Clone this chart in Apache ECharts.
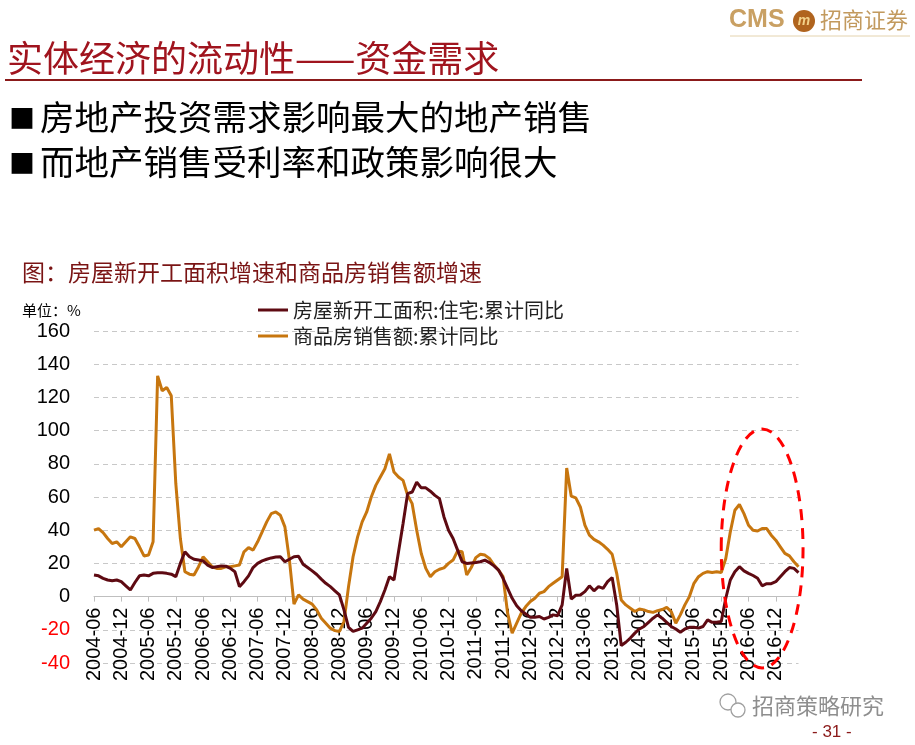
<!DOCTYPE html>
<html>
<head>
<meta charset="utf-8">
<script src="https://cdn.jsdelivr.net/npm/echarts/dist/echarts.min.js"></script>
<style>
html,body{margin:0;padding:0;background:#fff;}
#chart{width:915px;height:745px;}
</style>
</head>
<body>
<div id="chart"></div>
<script>
// ---- data ----
var startYear = 2004, startMonth = 6, monthCount = 156;
var categories = [];
for (var i = 0; i < monthCount; i++) {
  var m = startMonth - 1 + i;
  var y = startYear + Math.floor(m / 12);
  var mm = (m % 12) + 1;
  categories.push(y + '-' + (mm < 10 ? '0' + mm : mm));
}
var seriesNames = ['房屋新开工面积:住宅:累计同比', '商品房销售额:累计同比'];
var newStarts = [
  13, 12.5, 11, 10, 9.5, 10, 9, 6.5, 4, 8.5, 12.5, 13, 12.5, 14, 14.3, 14.3, 14, 13.5, 12, 20,
  27, 24, 22.5, 22, 21.5, 19, 17.5, 18, 18.5, 18.3, 17, 15, 6, 9, 12.5, 17.5, 20, 21.5, 22.5, 23.3,
  23.8, 24, 21, 22.5, 24, 24.3, 19.5, 17.5, 15.5, 13.3, 10.5, 8, 6, 3.5, 1, -8, -18.5, -21, -20, -19,
  -16, -13, -9, -3, 4, 12, 10, 27, 44, 62, 63, 69, 65.5, 65.5, 63.5, 61, 59, 48, 40, 35,
  28, 21, 20, 20.3, 20.5, 21, 22, 20.5, 18.5, 16, 11, 5, -1, -5.5, -8.5, -10.5, -12.5, -12.5, -12, -13.5,
  -12.5, -11, -11.5, -5, 17, -1.5, 0.8, 1, 3, 6.5, 3.5, 6, 5, 9, 11.5, -5, -29.5, -27.5, -25, -22,
  -19.5, -18, -15.5, -13, -11, -13, -15.5, -18, -19.5, -21.5, -19.5, -18.5, -18.5, -19, -18, -14, -15.5, -15.5, -15, -1,
  10, 15, 18, 15.5, 14, 12.7, 11, 6.5, 7.8, 7.8, 9, 12, 15, 17.5, 17, 14.5
];
var salesValue = [
  40, 41, 38.5, 35, 32, 33, 30, 33, 36, 35, 30, 24.5, 25, 33, 133, 124, 126, 121, 68, 35,
  15, 13.5, 13, 18, 24, 21, 18, 17, 17, 18, 18, 18.5, 19, 27, 29.5, 28, 33, 39, 45, 50,
  51, 49, 42, 22, -4.5, 1, -1.5, -3, -4.5, -8, -13, -16, -19, -20.5, -21, -15, 6, 24, 36, 45,
  51, 60, 67, 72, 77, 86, 75, 72, 70, 61, 56, 40, 26, 17, 12, 15, 16.5, 17.3, 20, 22,
  27.5, 27, 13, 17.5, 23.5, 25.5, 25, 23, 19, 16, 12, -10, -22, -16, -10, -6, -3, -1, 2, 3,
  6, 8, 10, 12, 77.5, 60.5, 59.5, 54, 43, 37, 34.5, 33, 31, 28.5, 25.5, 14, -2, -5, -7, -9,
  -7.5, -8, -9, -9.5, -8.5, -7.8, -6.5, -9, -16, -11, -5, 0, 8, 12, 14, 15, 14.5, 15, 14.5, 23,
  39, 52, 55.5, 50, 43, 40, 39.5, 41, 41, 37, 34, 30, 26, 24.5, 21, 18
];
var yMin = -40, yMax = 160, yStep = 20;
var labelStep = 6;
// annotation ellipse (data coords of centre, radii in categories / value units)
var ellipseCenter = [147, 29];
var ellipseRadius = [8.8, 72];

var COL_DARK = '#5E0A12';
var COL_ORANGE = '#C7760F';
var CJK = '"Noto Sans CJK SC", sans-serif';
var LAT = '"Liberation Sans", Arial, sans-serif';

var GRID_TOP = 331, GRID_BOTTOM = 82, CHART_H = 745;
var gridH = CHART_H - GRID_TOP - GRID_BOTTOM;
var zeroOffset = -(0 - yMin) / (yMax - yMin) * gridH; // move x axis up to value 0

var chart = echarts.init(document.getElementById('chart'), null, {renderer: 'canvas'});

var baseGraphic = [
  // logo
  {type: 'text', left: 729, top: 8, style: {text: 'CMS', fill: '#C9A063', font: 'bold 25px ' + LAT}},
  {type: 'circle', shape: {cx: 804, cy: 21, r: 11}, style: {fill: '#B0641E'}},
  {type: 'text', x: 804, y: 21, style: {text: 'm', fill: '#F3D28A', font: 'bold italic 14px ' + LAT, textAlign: 'center', textVerticalAlign: 'middle'}},
  {type: 'text', left: 820, top: 9, style: {text: '招商证券', fill: '#C29A5E', font: '22px ' + CJK}},
  {type: 'line', shape: {x1: 730, y1: 36, x2: 910, y2: 36}, style: {stroke: '#E4D3AE', lineWidth: 1}},
  // title
  {type: 'text', x: 7, y: 58, style: {text: '实体经济的流动性——资金需求', fill: '#A0141E', font: '36px ' + CJK, textVerticalAlign: 'middle'}},
  {type: 'line', shape: {x1: 5, y1: 80, x2: 862, y2: 80}, style: {stroke: '#8B1A1A', lineWidth: 2}},
  // bullets
  {type: 'text', x: 9, y: 118, style: {text: '■', fill: '#000', font: '26px ' + CJK, textVerticalAlign: 'middle'}},
  {type: 'text', x: 40, y: 117, style: {text: '房地产投资需求影响最大的地产销售', fill: '#000', font: '34.5px ' + CJK, textVerticalAlign: 'middle'}},
  {type: 'text', x: 9, y: 163, style: {text: '■', fill: '#000', font: '26px ' + CJK, textVerticalAlign: 'middle'}},
  {type: 'text', x: 40, y: 162, style: {text: '而地产销售受利率和政策影响很大', fill: '#000', font: '34.5px ' + CJK, textVerticalAlign: 'middle'}},
  // caption
  {type: 'text', x: 22, y: 272, style: {text: '图：房屋新开工面积增速和商品房销售额增速', fill: '#7A1414', font: '23px ' + CJK, textVerticalAlign: 'middle'}},
  {type: 'text', x: 22, y: 310, style: {text: '单位：%', fill: '#000', font: '15px ' + CJK, textVerticalAlign: 'middle'}},
  // watermark
  {type: 'circle', shape: {cx: 728, cy: 702, r: 8}, style: {fill: 'none', stroke: '#A0A0A0', lineWidth: 1.3}},
  {type: 'circle', shape: {cx: 738, cy: 710, r: 7}, style: {fill: '#fff', stroke: '#A0A0A0', lineWidth: 1.3}},
  {type: 'text', x: 752, y: 706, style: {text: '招商策略研究', fill: '#8E8E8E', font: '22px ' + CJK, textVerticalAlign: 'middle'}},
  {type: 'text', x: 812, y: 732, style: {text: '- 31 -', fill: '#8B1A1A', font: '17px ' + LAT, textVerticalAlign: 'middle'}}
];

var option = {
  animation: false,
  backgroundColor: '#fff',
  grid: {left: 94, right: 116.5, top: GRID_TOP, bottom: GRID_BOTTOM, containLabel: false},
  legend: {
    data: seriesNames,
    orient: 'vertical',
    left: 258,
    top: 300,
    padding: 0,
    icon: 'rect',
    itemWidth: 30,
    itemHeight: 3,
    itemGap: 6,
    textStyle: {fontSize: 20, color: '#222', fontFamily: CJK}
  },
  xAxis: {
    type: 'category',
    data: categories,
    boundaryGap: false,
    position: 'bottom',
    offset: zeroOffset,
    axisLine: {onZero: false, lineStyle: {color: '#BFBFBF', width: 1}},
    axisTick: {show: true, interval: labelStep - 1, length: 5, lineStyle: {color: '#BFBFBF'}},
    axisLabel: {interval: labelStep - 1, rotate: 90, fontSize: 20, color: '#000', margin: 11, fontFamily: LAT},
    splitLine: {show: false}
  },
  yAxis: {
    type: 'value',
    min: yMin, max: yMax, interval: yStep,
    axisLine: {show: false},
    axisTick: {show: false},
    axisLabel: {
      fontSize: 20, margin: 24, fontFamily: LAT,
      color: function (v) { return Number(v) < 0 ? '#FF0000' : '#000'; }
    },
    splitLine: {show: true, lineStyle: {color: '#C8C8C8', type: [5, 4], width: 1}}
  },
  series: [
    {name: seriesNames[0], type: 'line', data: newStarts, symbol: 'none', lineStyle: {color: COL_DARK, width: 3}, itemStyle: {color: COL_DARK}, z: 3},
    {name: seriesNames[1], type: 'line', data: salesValue, symbol: 'none', lineStyle: {color: COL_ORANGE, width: 3}, itemStyle: {color: COL_ORANGE}, z: 2}
  ],
  graphic: baseGraphic
};
chart.setOption(option);

var c = chart.convertToPixel({gridIndex: 0}, ellipseCenter);
var e = chart.convertToPixel({gridIndex: 0}, [ellipseCenter[0] + ellipseRadius[0], ellipseCenter[1] + ellipseRadius[1]]);
var rx = Math.abs(e[0] - c[0]), ry = Math.abs(c[1] - e[1]);
chart.setOption({
  graphic: baseGraphic.concat([
    {type: 'ellipse', shape: {cx: c[0], cy: c[1], rx: rx, ry: ry}, z: 100,
     style: {fill: 'none', stroke: '#FF0000', lineWidth: 3, lineDash: [11, 8]}}
  ])
}, {replaceMerge: ['graphic']});
</script>
</body>
</html>
